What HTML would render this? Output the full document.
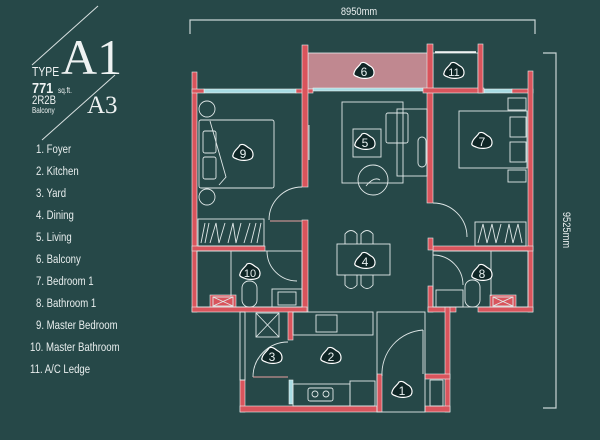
<!DOCTYPE html>
<html><head><meta charset="utf-8"><style>
html,body{margin:0;padding:0;background:#264848;}
svg{display:block}
text{font-family:"Liberation Sans",sans-serif;}
text.serif{font-family:"Liberation Serif",serif;}
</style></head><body>
<svg width="600" height="440" viewBox="0 0 600 440" xmlns="http://www.w3.org/2000/svg">
<rect width="600" height="440" fill="#264848"/>
<defs>
<path id="blob" d="M-10,2 C-9,-3 -5,-4 -3,-8 C1,-10 4,-6 6,-5 C10,-3 11,2 9,5 C6,8 -2,8 -6,6 C-9,5 -11,4 -10,2Z"/>
</defs>
<!-- title -->
<g stroke="#d8e0e0" stroke-width="1" fill="none">
<line x1="32" y1="65" x2="98" y2="6"/>
<line x1="115" y1="75" x2="42" y2="140"/>
</g>
<g fill="#eef2f2">
<g transform="translate(32,76) scale(0.8,1)"><text x="0" y="0" font-size="13">TYPE</text></g>
<text class="serif" x="61" y="74" font-size="50">A1</text>
<g transform="translate(32,93) scale(0.85,1)"><text x="0" y="0" font-size="15" font-weight="bold">771</text></g>
<g transform="translate(58,93) scale(0.8,1)"><text x="0" y="0" font-size="8">sq.ft.</text></g>
<g transform="translate(32,104) scale(0.8,1)"><text x="0" y="0" font-size="12">2R2B</text></g>
<g transform="translate(32,113) scale(0.8,1)"><text x="0" y="0" font-size="8">Balcony</text></g>
<text class="serif" x="87" y="113" font-size="25">A3</text>
</g>
<g fill="#e8eeee" font-size="12" transform="scale(0.8,1)">
<text x="45" y="153">1. Foyer</text>
<text x="45" y="175">2. Kitchen</text>
<text x="45" y="197">3. Yard</text>
<text x="45" y="219">4. Dining</text>
<text x="45" y="241">5. Living</text>
<text x="45" y="263">6. Balcony</text>
<text x="45" y="285">7. Bedroom 1</text>
<text x="45" y="307">8. Bathroom 1</text>
<text x="45" y="329">9. Master Bedroom</text>
<text x="37.5" y="351">10. Master Bathroom</text>
<text x="37.5" y="373">11. A/C Ledge</text>
</g>
<!-- dimensions -->
<g stroke="#c8d4d4" stroke-width="1.2" fill="none">
<polyline points="190,34 190,20 535,20 535,34"/>
<polyline points="543,53 556,53 556,408 543,408"/>
</g>
<g transform="translate(359,15) scale(0.85,1)"><text x="0" y="0" font-size="11" fill="#e8eeee" text-anchor="middle">8950mm</text></g>
<g transform="translate(563,230) rotate(90) scale(0.85,1)"><text x="0" y="0" font-size="11" fill="#e8eeee" text-anchor="middle">9525mm</text></g>
<!-- balcony fill -->
<rect x="308" y="53" width="120" height="36" fill="#c08890"/>
<rect x="308" y="53" width="120" height="36" fill="none" stroke="#e8eeee" stroke-width="0.8"/>
<rect x="433" y="53" width="45" height="36" fill="none" stroke="#e8eeee" stroke-width="0.8"/>
<line x1="435" y1="52" x2="476" y2="52" stroke="#fff" stroke-width="1.5"/>
<!-- windows -->
<g fill="#a8dce4" stroke="#e8eeee" stroke-width="0.6">
<rect x="204" y="89" width="92" height="4"/>
<rect x="313" y="88" width="110" height="3"/>
<rect x="484" y="89" width="28" height="4"/>
<rect x="289" y="380" width="4" height="24"/>
</g>
<!-- walls -->
<g fill="#d9545c" stroke="#e8eeee" stroke-width="0.6">
<rect x="192" y="72" width="5" height="240"/>
<rect x="192" y="89" width="12" height="4"/>
<rect x="296" y="89" width="17" height="4"/>
<rect x="302" y="45" width="6" height="142"/>
<rect x="302" y="220" width="6" height="92"/>
<rect x="427" y="44" width="6" height="159"/>
<rect x="423" y="88" width="61" height="5"/>
<rect x="478" y="44" width="5" height="49"/>
<rect x="512" y="89" width="21" height="4"/>
<rect x="528" y="71" width="5" height="241"/>
<rect x="192" y="246" width="73" height="5"/>
<rect x="433" y="246" width="100" height="5"/>
<rect x="428" y="238" width="5" height="12"/>
<rect x="428" y="286" width="5" height="26"/>
<rect x="192" y="307" width="115" height="5"/>
<rect x="428" y="307" width="28" height="5"/>
<rect x="478" y="307" width="55" height="5"/>
<rect x="288" y="312" width="5" height="28"/>
<rect x="445" y="307" width="5" height="105"/>
<rect x="240" y="380" width="5" height="32"/>
<rect x="240" y="406" width="137" height="6"/>
<rect x="377" y="374" width="5" height="38"/>
<rect x="425" y="374" width="25" height="5"/>
<rect x="425" y="406" width="25" height="6"/>
<rect x="210" y="295" width="26" height="12"/>
<rect x="490" y="295" width="26" height="12"/>
</g>
<!-- white outlines & furniture -->
<g fill="none" stroke="#e0e8e8" stroke-width="0.9">
<rect x="240" y="312" width="5" height="68"/>
<rect x="377" y="312" width="48" height="100"/>
<rect x="430" y="380" width="13" height="26"/>
<rect x="199" y="120" width="75" height="68" rx="2"/>
<circle cx="207" cy="109" r="8"/>
<circle cx="207" cy="197" r="8"/>
<rect x="203" y="131" width="13" height="22" rx="2"/>
<rect x="203" y="157" width="13" height="22" rx="2"/>
<polyline points="210,121 226,177 219,185"/>
<rect x="198" y="219" width="66" height="27"/>
<path d="M201,243 l4,-20 M205,243 l4,-20 M210,243 l6,-20 l3,20 l6,-20 M228,243 l5,-20 l3,20 l5,-20 M244,243 l6,-20 M251,243 l5,-20 M257,243 l4,-20"/>
<line x1="309" y1="125" x2="309" y2="160"/>
<rect x="342" y="102" width="61" height="81"/>
<rect x="353" y="129" width="28" height="28"/>
<rect x="397" y="109" width="30" height="67"/>
<rect x="386" y="113" width="22" height="30" rx="2"/>
<rect x="418" y="137" width="8" height="30" rx="4"/>
<circle cx="373" cy="180" r="15"/>
<path d="M366,186 q8,-10 14,-6"/>
<rect x="459" y="111" width="68" height="57"/>
<rect x="508" y="98" width="18" height="12"/>
<rect x="510" y="117" width="16" height="20"/>
<rect x="510" y="142" width="16" height="20"/>
<rect x="508" y="170" width="18" height="12"/>
<rect x="475" y="222" width="51" height="24"/>
<path d="M478,243 l5,-19 l4,19 l5,-19 l4,19 l5,-19 M505,243 l4,-19 l4,19 l5,-19 l4,19"/>
<path d="M269,220 A33,33 0 0 1 302,187"/>
<path d="M433,203 A34,34 0 0 1 467,237"/>
<path d="M267,251 A30,30 0 0 0 297,281"/>
<path d="M433,255 A30,30 0 0 1 463,285"/>
<path d="M253,377 A35,35 0 0 1 288,342"/>
<path d="M382,376 A44,44 0 0 1 423,330"/>
<line x1="423" y1="330" x2="423" y2="374"/>
<line x1="270" y1="221" x2="302" y2="221" stroke="#e8a0a0"/>
<line x1="253" y1="377" x2="288" y2="377" stroke="#e8a0a0"/>
<rect x="337" y="244" width="53" height="31"/>
<path d="M345,244 v-10 q6,-7 12,0 v10 M361,244 v-10 q6,-7 12,0 v10 M345,275 v10 q6,7 12,0 v-10 M361,275 v10 q6,7 12,0 v-10"/>
<rect x="197" y="251" width="105" height="56"/>
<line x1="231" y1="251" x2="231" y2="296"/>
<rect x="242" y="281" width="15" height="26" rx="7"/>
<rect x="272" y="289" width="30" height="18"/>
<rect x="278" y="292" width="18" height="13"/>
<rect x="213" y="297" width="20" height="9"/>
<path d="M213,297 l20,9 M233,297 l-20,9"/>
<rect x="433" y="251" width="95" height="56"/>
<line x1="491" y1="251" x2="491" y2="296"/>
<rect x="465" y="280" width="15" height="27" rx="7"/>
<rect x="436" y="290" width="27" height="17"/>
<rect x="493" y="297" width="20" height="9"/>
<path d="M493,297 l20,9 M513,297 l-20,9"/>
<rect x="293" y="312" width="80" height="23"/>
<rect x="316" y="315" width="21" height="17"/>
<rect x="256" y="313" width="23" height="24"/>
<path d="M256,313 l23,24 M279,313 l-23,24"/>
<rect x="293" y="384" width="57" height="22"/>
<rect x="350" y="381" width="25" height="25"/>
<rect x="308" y="388" width="25" height="13" rx="2"/>
<circle cx="315" cy="394" r="3"/><circle cx="326" cy="394" r="3"/>
</g>
<!-- labels -->
<g font-size="12" text-anchor="middle" fill="#e8f0f0">
<g transform="translate(402,390)"><use href="#blob" fill="#0f2626" stroke="#fff" stroke-width="1.2"/><text y="5">1</text></g>
<g transform="translate(331,356)"><use href="#blob" fill="#0f2626" stroke="#fff" stroke-width="1.2"/><text y="5">2</text></g>
<g transform="translate(272,356)"><use href="#blob" fill="#0f2626" stroke="#fff" stroke-width="1.2"/><text y="5">3</text></g>
<g transform="translate(365,261)"><use href="#blob" fill="#0f2626" stroke="#fff" stroke-width="1.2"/><text y="5">4</text></g>
<g transform="translate(365,142)"><use href="#blob" fill="#0f2626" stroke="#fff" stroke-width="1.2"/><text y="5">5</text></g>
<g transform="translate(364,71)"><use href="#blob" fill="#0f2626" stroke="#fff" stroke-width="1.2"/><text y="5">6</text></g>
<g transform="translate(482,141)"><use href="#blob" fill="#0f2626" stroke="#fff" stroke-width="1.2"/><text y="5">7</text></g>
<g transform="translate(482,273)"><use href="#blob" fill="#0f2626" stroke="#fff" stroke-width="1.2"/><text y="5">8</text></g>
<g transform="translate(243,153)"><use href="#blob" fill="#0f2626" stroke="#fff" stroke-width="1.2"/><text y="5">9</text></g>
<g transform="translate(250,272)"><use href="#blob" fill="#0f2626" stroke="#fff" stroke-width="1.2"/><text y="5" font-size="11">10</text></g>
<g transform="translate(454,71)"><use href="#blob" fill="#0f2626" stroke="#fff" stroke-width="1.2"/><text y="5" font-size="11">11</text></g>
</g>
</svg>
</body></html>
